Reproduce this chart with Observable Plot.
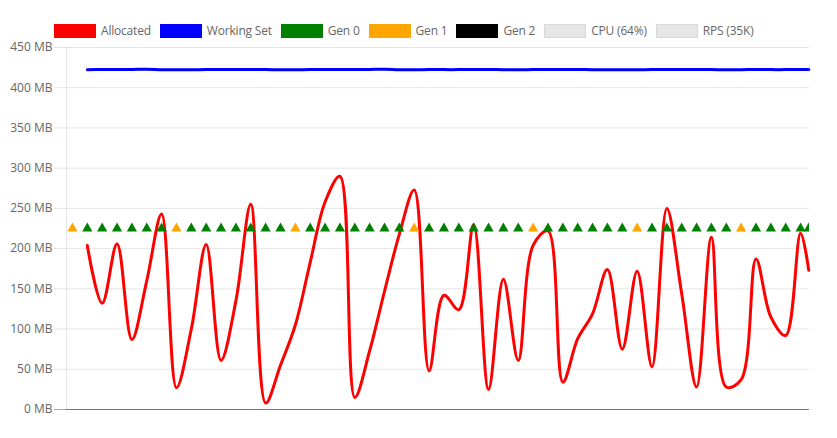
<!DOCTYPE html>
<html>
<head>
<meta charset="utf-8">
<script src="https://cdn.jsdelivr.net/npm/d3@7"></script>
<script src="https://cdn.jsdelivr.net/npm/@observablehq/plot@0.6"></script>
<style>
  html, body { margin: 0; padding: 0; background: #fff; }
  body { width: 837px; height: 438px; overflow: hidden; font-family: "Open Sans", "Noto Sans", sans-serif; }
  #legend { height: 40px; box-sizing: border-box; padding: 24px 0 0 54px; display: flex; align-items: flex-start; }
  .item { display: flex; align-items: center; margin-right: 9px; }
  .box { width: 40px; height: 12px; border: 1px solid; margin-right: 5px; }
  .lab { font-size: 12px; color: #666; line-height: 14px; white-space: nowrap; letter-spacing: -0.2px; }
  #chart svg { display: block; overflow: visible; }
</style>
</head>
<body>
<div id="legend"></div>
<div id="chart"></div>
<script>
// ---- data ----
const seconds = [0,1,2,3,4,5,6,7,8,9,10,11,12,13,14,15,16,17,18,19,20,21,22,23,24,25,26,27,28,29,30,31,32,33,34,35,36,37,38,39,40,41,42,43,44,45,46,47,48,49,49.55];
const gcGen = ["Gen 1","Gen 0","Gen 0","Gen 0","Gen 0","Gen 0","Gen 0","Gen 1","Gen 0","Gen 0",
               "Gen 0","Gen 0","Gen 0","Gen 0","Gen 0","Gen 1","Gen 0","Gen 0","Gen 0","Gen 0",
               "Gen 0","Gen 0","Gen 0","Gen 1","Gen 0","Gen 0","Gen 0","Gen 0","Gen 0","Gen 0",
               "Gen 0","Gen 1","Gen 0","Gen 0","Gen 0","Gen 0","Gen 0","Gen 0","Gen 1","Gen 0",
               "Gen 0","Gen 0","Gen 0","Gen 0","Gen 0","Gen 1","Gen 0","Gen 0","Gen 0","Gen 0","Gen 0"];
const gcMarkerMB = 225;
const allocatedMB = [null,204,132,206,87,160,243,27,100,205,
                     61,135,255,8,55,105,183,258,290,15,
                     73,147,218,273,48,142,124,230,25,162,
                     61,204,222,34,88,119,174,75,172,53,
                     250,144,28,214,28,37,187,115,92,219,173];
const workingSetMB = [null,422.4,422.6,422.6,422.7,423.0,422.4,422.3,422.4,422.5,
                      422.6,422.6,422.5,422.5,422.3,422.4,422.5,422.6,422.6,422.5,
                      422.7,423.0,422.4,422.4,422.5,422.5,422.5,422.6,422.6,422.4,
                      422.3,422.5,422.5,422.6,422.6,422.4,422.3,422.3,422.4,422.5,
                      422.5,422.6,422.7,422.5,422.4,422.4,422.6,422.5,422.5,422.7,422.7];
const yTicks = [0,50,100,150,200,250,300,350,400,450];
const legendLabels = ["Allocated","Working Set","Gen 0","Gen 1","Gen 2","CPU (64%)","RPS (35K)"];
const legendColors = ["#ff0000","#0000ff","#008000","#ffa500","#000000","#e6e6e6","#e6e6e6"];
const legendBorders = ["#ff0000","#0000ff","#008000","#ffa500","#000000","#d9d9d9","#d9d9d9"];

// ---- legend ----
const legend = d3.select("#legend");
legendLabels.forEach((l, i) => {
  const it = legend.append("div").attr("class", "item");
  it.append("div").attr("class", "box").style("background", legendColors[i]).style("border-color", legendBorders[i]);
  it.append("span").attr("class", "lab").text(l);
});

// ---- tables ----
const rows = seconds.map((t, i) => ({t, gen: gcGen[i], alloc: allocatedMB[i], ws: workingSetMB[i], marker: gcMarkerMB}));
const lineRows = rows.filter(d => d.alloc != null);

const chart = Plot.plot({
  width: 837,
  height: 398,
  marginLeft: 66,
  marginRight: 28,
  marginTop: 7,
  marginBottom: 29,
  style: {fontFamily: '"Open Sans", "Noto Sans", sans-serif', fontSize: "12px", background: "#fff", overflow: "visible"},
  x: {domain: [-0.4, 49.6], axis: null},
  y: {domain: [0, 450], axis: null},
  color: {domain: ["Gen 0","Gen 1","Gen 2"], range: ["#008000","#ffa500","#000000"]},
  marks: [
    Plot.gridY(yTicks, {stroke: "#000", strokeOpacity: 0.1}),
    Plot.axisY(yTicks, {tickSize: 12, tickPadding: 2, stroke: "#000", strokeOpacity: 0.1, fill: "#666", fontSize: 12, tickFormat: d => d + " MB"}),
    Plot.ruleX([-0.4], {stroke: "#000", strokeOpacity: 0.1}),
    Plot.tickY([0], {x1: null, stroke: "#000", strokeOpacity: 0.27, insetLeft: -12}),
    Plot.ruleY([0], {stroke: "#000", strokeOpacity: 0.27}),
    Plot.line(lineRows, {x: "t", y: "ws", stroke: "#0000ff", strokeWidth: 3, curve: "catmull-rom"}),
    Plot.line(lineRows, {x: "t", y: "alloc", stroke: "#ff0000", strokeWidth: 3, curve: "catmull-rom"}),
    Plot.dot(rows, {x: "t", y: "marker", symbol: "triangle", fill: "gen", r: 3.8, clip: true})
  ]
});
document.getElementById("chart").appendChild(chart);
</script>
</body>
</html>
